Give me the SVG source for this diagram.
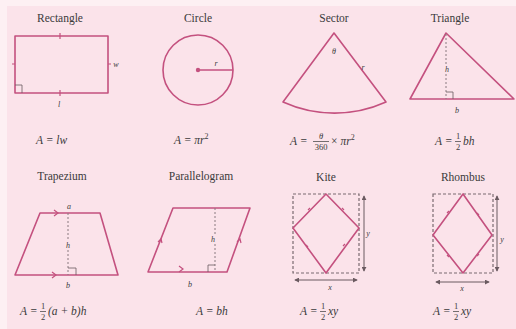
<svg xmlns="http://www.w3.org/2000/svg" width="516" height="329" viewBox="0 0 516 329">
<defs>
<style>
.sh{fill:none;stroke:#c4517f;stroke-width:1.6;stroke-linejoin:round}
.dsh{fill:none;stroke:#8a7a80;stroke-width:1;stroke-dasharray:2,2}
.dbox{fill:none;stroke:#7a6a70;stroke-width:1.2;stroke-dasharray:3,2}
.thin{fill:none;stroke:#6a5a60;stroke-width:0.8}
.ax{fill:none;stroke:#6a5a60;stroke-width:1}
.tt{font-family:"Liberation Serif",serif;font-size:11.5px;fill:#3a3a3a;text-anchor:middle}
.lb{font-family:"Liberation Serif",serif;font-style:italic;font-size:8px;fill:#3a3a3a;text-anchor:middle}
.fm{font-family:"Liberation Serif",serif;font-style:italic;font-size:11.5px;fill:#3a3a3a}
.fr{font-family:"Liberation Serif",serif;font-size:8.5px;fill:#3a3a3a;text-anchor:middle}
.bar{stroke:#3a3a3a;stroke-width:0.7}
.tick{stroke:#c4517f;stroke-width:1.2;fill:none}
</style>
<marker id="ah" viewBox="0 0 6 6" refX="5" refY="3" markerWidth="5" markerHeight="5" orient="auto-start-reverse"><path d="M0,0L6,3L0,6z" fill="#6a5a60"/></marker>
</defs>
<rect x="0" y="0" width="516" height="329" fill="#fbe3ea"/>
<rect x="0" y="0" width="516" height="6" fill="#fdf0f3"/>
<rect x="0" y="0" width="7" height="329" fill="#fdf0f3"/>

<g id="rectangle">
<text class="tt" x="60" y="22">Rectangle</text>
<rect class="sh" x="15" y="36" width="93" height="57"/>
<path class="thin" d="M15,85h7v8"/>
<path class="tick" d="M60,33v6M15,64h-3M108,64h3M60,90v6"/>
<text class="lb" x="116" y="67">w</text>
<text class="lb" x="59" y="107">l</text>
<text class="fm" x="36" y="144">A = lw</text>
</g>

<g id="circle">
<text class="tt" x="198" y="22">Circle</text>
<circle class="sh" cx="198" cy="70" r="35"/>
<line class="sh" x1="198" y1="70" x2="233" y2="70"/>
<circle cx="198" cy="70" r="2.2" fill="#c4517f"/>
<text class="lb" x="216" y="66">r</text>
<text class="fm" x="174" y="144">A = πr<tspan dy="-5" font-size="8" font-style="normal">2</tspan></text>
</g>

<g id="sector">
<text class="tt" x="334" y="22">Sector</text>
<path class="sh" d="M334,33L283,102A125,125 0 0 0 386,102Z"/>
<text class="lb" x="334" y="54">θ</text>
<text class="lb" x="363" y="70">r</text>
<text class="fm" x="290" y="145">A =</text>
<text class="fr" x="321" y="139" font-style="italic">θ</text>
<line class="bar" x1="313" y1="141.5" x2="329" y2="141.5"/>
<text class="fr" x="321" y="150">360</text>
<text class="fm" x="331" y="145"><tspan font-style="normal">×</tspan> πr<tspan dy="-5" font-size="8" font-style="normal">2</tspan></text>
</g>

<g id="triangle">
<text class="tt" x="450" y="22">Triangle</text>
<path class="sh" d="M446,33L410,99L514,99Z"/>
<line class="dsh" x1="446" y1="34" x2="446" y2="64"/>
<line class="dsh" x1="446" y1="74" x2="446" y2="99"/>
<path class="thin" d="M446,92h7v7"/>
<text class="lb" x="447" y="72">h</text>
<text class="lb" x="457" y="113">b</text>
<text class="fm" x="435" y="145">A =</text>
<text class="fr" x="458" y="139">1</text>
<line class="bar" x1="455" y1="141.5" x2="461" y2="141.5"/>
<text class="fr" x="458" y="150">2</text>
<text class="fm" x="463" y="145" font-style="normal">bh</text>
</g>

<g id="trapezium">
<text class="tt" x="62" y="180">Trapezium</text>
<path class="sh" d="M40,213L100,213L118,275L15,275Z"/>
<line class="dsh" x1="68" y1="213" x2="68" y2="240"/>
<line class="dsh" x1="68" y1="250" x2="68" y2="275"/>
<path class="thin" d="M68,268h8v7"/>
<path class="tick" d="M54,210l4,3l-4,3M52,272l4,3l-4,3"/>
<text class="lb" x="69" y="209">a</text>
<text class="lb" x="68" y="248">h</text>
<text class="lb" x="68" y="288">b</text>
<text class="fm" x="20" y="315">A =</text>
<text class="fr" x="43" y="309">1</text>
<line class="bar" x1="40" y1="311.5" x2="46" y2="311.5"/>
<text class="fr" x="43" y="320">2</text>
<text class="fm" x="48" y="315">(a + b)h</text>
</g>

<g id="parallelogram">
<text class="tt" x="201" y="180">Parallelogram</text>
<path class="sh" d="M173,208L250,208L227,272L148,272Z"/>
<line class="dsh" x1="215" y1="208" x2="215" y2="234"/>
<line class="dsh" x1="215" y1="244" x2="215" y2="272"/>
<path class="thin" d="M208,272v-7h7"/>
<path class="tick" d="M179,272l4,-3l-4,-3M158,242l3,-3l1,4M237,242l3,-3l1,4"/>
<text class="lb" x="213" y="242">h</text>
<text class="lb" x="190" y="287">b</text>
<text class="fm" x="196" y="315">A = bh</text>
</g>

<g id="kite">
<text class="tt" x="326" y="181">Kite</text>
<rect class="dbox" x="293" y="194" width="66" height="79"/>
<path class="sh" d="M326,194L359,228L326,273L293,228Z"/>
<path class="tick" d="M308,210l2,-2M342,208l2,2M306,245l2,2M343,246l2,-2"/>
<line class="ax" x1="364" y1="196" x2="364" y2="271" marker-start="url(#ah)" marker-end="url(#ah)"/>
<line class="ax" x1="295" y1="280" x2="357" y2="280" marker-start="url(#ah)" marker-end="url(#ah)"/>
<text class="lb" x="368" y="236">y</text>
<text class="lb" x="330" y="290">x</text>
<text class="fm" x="300" y="315">A =</text>
<text class="fr" x="323" y="309">1</text>
<line class="bar" x1="320" y1="311.5" x2="326" y2="311.5"/>
<text class="fr" x="323" y="320">2</text>
<text class="fm" x="328" y="315">xy</text>
</g>

<g id="rhombus">
<text class="tt" x="463" y="181">Rhombus</text>
<rect class="dbox" x="433" y="194" width="60" height="79"/>
<path class="sh" d="M463,194L492,235L463,273L433,235Z"/>
<path class="tick" d="M447,213l2,-2M477,213l2,2M447,255l2,2M477,256l2,-2"/>
<line class="ax" x1="497" y1="196" x2="497" y2="271" marker-start="url(#ah)" marker-end="url(#ah)"/>
<line class="ax" x1="436" y1="282" x2="489" y2="282" marker-start="url(#ah)" marker-end="url(#ah)"/>
<text class="lb" x="502" y="242">y</text>
<text class="lb" x="462" y="291">x</text>
<text class="fm" x="433" y="315">A =</text>
<text class="fr" x="456" y="309">1</text>
<line class="bar" x1="453" y1="311.5" x2="459" y2="311.5"/>
<text class="fr" x="456" y="320">2</text>
<text class="fm" x="461" y="315">xy</text>
</g>
</svg>
